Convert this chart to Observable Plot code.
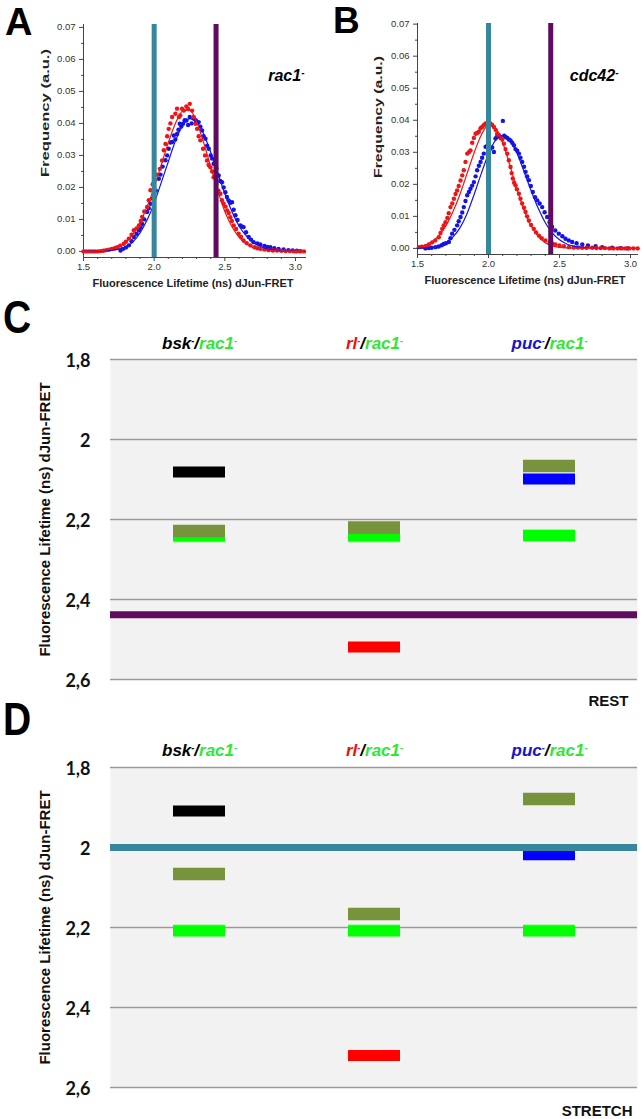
<!DOCTYPE html>
<html><head><meta charset="utf-8">
<script src="https://cdn.jsdelivr.net/npm/d3@7"></script>
<script src="https://cdn.jsdelivr.net/npm/@observablehq/plot@0.6"></script>
<style>
body{margin:0;background:#fff}
#root{position:relative;width:642px;height:1119px;overflow:hidden;background:#fff}
.panel{position:absolute}
.panel svg{display:block}
.letter{position:absolute;font-family:"Liberation Sans",Arial,sans-serif;font-weight:bold;line-height:0.8;color:#000;transform-origin:left top}
</style></head><body><div id="root">
<div class="letter" style="left:5px;top:7px;font-size:38px">A</div>
<div class="letter" style="left:333px;top:6px;font-size:37px">B</div>
<div class="letter" style="left:3px;top:299px;font-size:46px;transform:scaleX(0.85)">C</div>
<div class="letter" style="left:3px;top:701px;font-size:46px;transform:scaleX(0.85)">D</div>
</div>
<script>
// ---------- data ----------
const lifetimeTicks = [1.5, 2.0, 2.5, 3.0];
const lifetimeMinorTicks = [1.6, 1.7, 1.8, 1.9, 2.1, 2.2, 2.3, 2.4, 2.6, 2.7, 2.8, 2.9];
const freqTicks = [0, 0.01, 0.02, 0.03, 0.04, 0.05, 0.06, 0.07];
const freqMinorTicks = [0.005, 0.015, 0.025, 0.035, 0.045, 0.055, 0.065];
const xTitle = "Fluorescence Lifetime (ns) dJun-FRET";
const freqTitle = "Frequency (a.u.)";

const stretchReference = 2.0;   // teal
const restReference = 2.438;    // purple

// Panel A (rac1-): [lifetime, frequency]
const aRed = [[1.50,0],[1.52,0],[1.54,0],[1.56,0],[1.58,0],[1.60,0],[1.62,0.0001],[1.64,0.0002],[1.66,0.0004],[1.68,0.0005],[1.70,0.0008],
[1.72,0.0010],[1.738,0.0013],[1.76,0.0018],[1.785,0.0024],[1.80,0.0030],[1.821,0.0040],[1.84,0.0052],[1.856,0.0066],[1.875,0.0072],[1.892,0.0081],[1.905,0.0095],[1.915,0.0108],[1.93,0.0125],[1.95,0.0139],[1.962,0.0160],[1.974,0.0191],[1.99,0.021],[2.02,0.024],[2.04,0.0258],[2.056,0.0284],[2.068,0.0316],[2.08,0.0336],[2.092,0.036],[2.103,0.0383],[2.115,0.040],[2.127,0.0420],[2.15,0.0430],[2.162,0.0446],[2.175,0.042],[2.185,0.0425],[2.197,0.0446],[2.21,0.0440],[2.228,0.0453],[2.24,0.0445],[2.252,0.0461],[2.268,0.0440],[2.28,0.042],[2.292,0.0399],[2.304,0.0383],[2.315,0.036],[2.327,0.0347],[2.346,0.0321],[2.36,0.030],[2.374,0.0284],[2.385,0.027],[2.398,0.0263],[2.41,0.025],[2.421,0.0232],[2.44,0.0211],[2.455,0.019],[2.469,0.0180],[2.48,0.016],[2.492,0.0149],[2.505,0.014],[2.516,0.0128],[2.528,0.012],[2.539,0.0107],[2.55,0.0095],[2.563,0.0081],[2.58,0.007],[2.598,0.0055],[2.615,0.0045],[2.633,0.0034],[2.655,0.0026],[2.681,0.0019],[2.71,0.0013],[2.73,0.001],[2.751,0.0008],[2.78,0.0006],[2.81,0.0004],[2.84,0.0003],[2.869,0.0003],[2.9,0.0002],[2.93,0.0001],[2.96,0.0001],[2.99,0],[3.01,0],[3.034,0],[3.06,0]];
const aBlue = [[1.762,0.0003],[1.78,0.0008],[1.80,0.0012],[1.821,0.0019],[1.84,0.0032],[1.856,0.0045],[1.875,0.0055],[1.892,0.0066],[1.905,0.0075],[1.915,0.0086],[1.93,0.010],[1.95,0.0123],[1.962,0.0135],[1.974,0.0149],[1.99,0.0165],[2.012,0.019],[2.033,0.0227],[2.045,0.024],[2.06,0.0265],[2.08,0.0285],[2.092,0.030],[2.103,0.0321],[2.115,0.034],[2.127,0.0342],[2.139,0.0362],[2.15,0.035],[2.162,0.0367],[2.172,0.038],[2.181,0.0399],[2.192,0.039],[2.204,0.0399],[2.216,0.041],[2.228,0.0409],[2.24,0.0395],[2.252,0.0420],[2.265,0.040],[2.28,0.0415],[2.295,0.041],[2.315,0.0404],[2.327,0.039],[2.339,0.0378],[2.35,0.036],[2.363,0.0352],[2.375,0.033],[2.386,0.0321],[2.40,0.030],[2.41,0.029],[2.421,0.0274],[2.44,0.026],[2.457,0.0237],[2.468,0.022],[2.48,0.0216],[2.492,0.020],[2.504,0.0185],[2.515,0.017],[2.527,0.0159],[2.54,0.0152],[2.551,0.0154],[2.563,0.013],[2.575,0.0113],[2.59,0.0098],[2.61,0.0081],[2.62,0.0078],[2.633,0.0076],[2.65,0.006],[2.669,0.0045],[2.685,0.0037],[2.704,0.0029],[2.73,0.0025],[2.751,0.0022],[2.78,0.0017],[2.80,0.0014],[2.822,0.0013],[2.85,0.001],[2.88,0.0008],[2.916,0.0006],[2.95,0.0004],[2.98,0.0003],[3.01,0.0002],[3.034,0.0001]];
const aRedFit = [[1.5,0],[1.6,0.0002],[1.7,0.0008],[1.75,0.0015],[1.8,0.003],[1.85,0.0055],[1.9,0.009],[1.95,0.014],[2.0,0.020],[2.05,0.027],[2.1,0.034],[2.15,0.040],[2.2,0.0438],[2.25,0.0442],[2.3,0.0405],[2.35,0.034],[2.4,0.0265],[2.45,0.019],[2.5,0.0125],[2.55,0.0078],[2.6,0.0045],[2.65,0.0024],[2.7,0.0012],[2.8,0.0003],[2.9,0.0001],[3.06,0]];
const aBlueFit = [[1.5,0],[1.7,0.0003],[1.75,0.0007],[1.8,0.0015],[1.85,0.003],[1.9,0.0058],[1.95,0.0098],[2.0,0.015],[2.05,0.0215],[2.1,0.028],[2.15,0.0345],[2.2,0.0392],[2.25,0.0415],[2.3,0.0405],[2.35,0.0368],[2.4,0.031],[2.45,0.0245],[2.5,0.018],[2.55,0.0125],[2.6,0.008],[2.65,0.0049],[2.7,0.0028],[2.75,0.0016],[2.8,0.0008],[2.9,0.0002],[3.06,0]];

// Panel B (cdc42-)
const bRed = [[1.51,0.0004],[1.53,0.0005],[1.556,0.0007],[1.58,0.0012],[1.603,0.0019],[1.625,0.0025],[1.65,0.0035],[1.662,0.0048],[1.674,0.0061],[1.685,0.0072],[1.697,0.0082],[1.71,0.0095],[1.72,0.011],[1.732,0.0129],[1.745,0.014],[1.756,0.0155],[1.768,0.017],[1.779,0.0181],[1.79,0.0195],[1.803,0.0212],[1.815,0.0228],[1.826,0.0244],[1.838,0.027],[1.85,0.0296],[1.862,0.030],[1.873,0.0306],[1.885,0.033],[1.897,0.0345],[1.909,0.0358],[1.92,0.036],[1.932,0.0364],[1.944,0.0375],[1.955,0.0379],[1.967,0.0385],[1.979,0.0390],[1.99,0.0385],[2.0,0.0395],[2.014,0.0390],[2.026,0.0385],[2.038,0.0379],[2.05,0.037],[2.061,0.0358],[2.073,0.035],[2.085,0.0348],[2.097,0.034],[2.108,0.0327],[2.12,0.031],[2.132,0.0296],[2.143,0.0275],[2.155,0.0254],[2.163,0.0235],[2.171,0.0218],[2.18,0.0205],[2.19,0.0197],[2.2,0.0185],[2.214,0.0171],[2.225,0.0155],[2.237,0.0140],[2.25,0.0127],[2.261,0.0114],[2.272,0.010],[2.284,0.0087],[2.30,0.0073],[2.319,0.0061],[2.335,0.005],[2.355,0.0040],[2.375,0.0032],[2.401,0.0025],[2.43,0.0018],[2.45,0.0015],[2.472,0.0012],[2.5,0.0009],[2.53,0.0007],[2.566,0.0004],[2.6,0.0003],[2.63,0.0003],[2.66,0.0002],[2.69,0.0002],[2.73,0.0002],[2.76,0.0001],[2.79,0.0001],[2.82,0.0001],[2.85,0],[2.88,0],[2.91,0],[2.94,0],[2.965,0],[2.99,0],[3.02,0],[3.05,0]];
const bBlue = [[1.556,0],[1.58,0.0001],[1.60,0.0002],[1.627,0.0004],[1.65,0.0006],[1.67,0.0010],[1.685,0.0014],[1.70,0.0016],[1.721,0.0020],[1.732,0.0032],[1.744,0.0046],[1.76,0.0058],[1.779,0.0072],[1.79,0.0085],[1.803,0.0098],[1.815,0.0112],[1.826,0.0129],[1.838,0.0148],[1.85,0.0166],[1.862,0.0176],[1.873,0.0186],[1.885,0.0196],[1.897,0.0207],[1.909,0.0225],[1.92,0.0244],[1.932,0.0258],[1.944,0.0270],[1.955,0.0283],[1.967,0.0296],[1.979,0.0317],[1.99,0.032],[2.01,0.031],[2.026,0.0315],[2.038,0.0301],[2.049,0.0343],[2.061,0.0350],[2.073,0.0353],[2.085,0.0345],[2.101,0.0398],[2.11,0.0352],[2.12,0.0348],[2.132,0.0345],[2.143,0.034],[2.155,0.0337],[2.167,0.033],[2.179,0.0322],[2.19,0.031],[2.202,0.0305],[2.214,0.0296],[2.225,0.0283],[2.237,0.0270],[2.25,0.0255],[2.261,0.0239],[2.272,0.0225],[2.284,0.0213],[2.298,0.0195],[2.312,0.0176],[2.328,0.016],[2.343,0.0150],[2.36,0.014],[2.378,0.0129],[2.395,0.0113],[2.413,0.0098],[2.43,0.0082],[2.448,0.0067],[2.47,0.0056],[2.495,0.0046],[2.52,0.0038],[2.542,0.0030],[2.565,0.0025],[2.589,0.0020],[2.62,0.0016],[2.66,0.0012],[2.70,0.0009],[2.754,0.0007],[2.80,0.0004],[2.871,0.0002],[2.93,0.0001],[2.98,0]];
const bRedFit = [[1.5,0.0005],[1.55,0.001],[1.6,0.002],[1.65,0.004],[1.7,0.007],[1.75,0.0115],[1.8,0.017],[1.85,0.0235],[1.9,0.030],[1.95,0.0355],[2.0,0.0385],[2.05,0.0375],[2.1,0.033],[2.15,0.026],[2.2,0.0185],[2.25,0.012],[2.3,0.007],[2.35,0.0038],[2.4,0.0018],[2.45,0.0008],[2.5,0.0003],[2.6,0.0001],[3.05,0]];
const bBlueFit = [[1.5,0],[1.6,0.0003],[1.65,0.0008],[1.7,0.0018],[1.75,0.0036],[1.8,0.0065],[1.85,0.011],[1.9,0.017],[1.95,0.0235],[2.0,0.0295],[2.05,0.0338],[2.1,0.0352],[2.15,0.0338],[2.2,0.0298],[2.25,0.024],[2.3,0.018],[2.35,0.0125],[2.4,0.008],[2.45,0.0048],[2.5,0.0027],[2.55,0.0014],[2.6,0.0007],[2.7,0.0002],[2.8,0],[3.05,0]];

// Panels C / D
const genotypes = ["bsk", "rl", "puc"];
const partner = "rac1";
const lifetimeAxisTicks = [1.8, 2, 2.2, 2.4, 2.6];
const lifetimeTitle = "Fluorescence Lifetime (ns) dJun-FRET";
const restSingle = [2.081, 2.519, 2.099];
const restDouble = [2.229, 2.220, 2.066];
const restRac1 = [2.241, 2.241, 2.240];
const stretchSingle = [1.909, 2.520, 2.018];
const stretchDouble = [2.066, 2.166, 1.879];
const stretchRac1 = [2.208, 2.208, 2.208];

// ---------- styles ----------
const TEAL = "#34879c", PURPLE = "#5f0b60";
const DOT_RED = "#f01414", DOT_BLUE = "#1414e6";
const SINGLE = ["#000000", "#ff0000", "#0000ff"];
const HEAD = ["#000000", "#ee1111", "#1515cc"];
const OLIVE = "#77933c", GREEN = "#00ff00", HEAD_GREEN = "#33e633";
const SANS = "'Liberation Sans', Arial, sans-serif";
const SVGNS = "http://www.w3.org/2000/svg";

const root = document.getElementById("root");
function place(el, left, top) {
  const d = document.createElement("div");
  d.className = "panel"; d.style.left = left + "px"; d.style.top = top + "px";
  d.appendChild(el); root.appendChild(d);
}
function findText(svg, str) { return [...svg.querySelectorAll("text")].filter(t => t.textContent === str); }
function rich(t, parts) {
  t.textContent = "";
  for (const p of parts) {
    const ts = document.createElementNS(SVGNS, "tspan");
    ts.textContent = p.t;
    if (p.fill) ts.setAttribute("fill", p.fill);
    if (p.sup) { ts.setAttribute("font-size", p.size || "9"); ts.setAttribute("baseline-shift", "super"); }
    t.appendChild(ts);
  }
}

function hist(cfg) {
  const pt = {x: d => d[0], y: d => d[1]};
  const svg = Plot.plot({
    width: cfg.width, height: 300,
    marginLeft: cfg.ml, marginRight: cfg.mr, marginTop: cfg.mt, marginBottom: cfg.mb,
    x: {domain: cfg.xDomain},
    y: {domain: cfg.yDomain},
    style: {fontFamily: SANS, fontSize: "9.5px", color: "#333", background: "transparent", overflow: "visible"},
    marks: [
      Plot.axisY({ticks: freqTicks, tickSize: 4, tickPadding: 4, tickFormat: d3.format(".2f"), label: null, stroke: "#444", fill: "#333"}),
      Plot.axisY({ticks: freqMinorTicks, tickSize: 2, tickFormat: () => "", label: null, stroke: "#444"}),
      Plot.axisX({ticks: lifetimeTicks, tickSize: 4, tickPadding: 2, tickFormat: d3.format(".1f"), label: null, stroke: "#444", fill: "#333"}),
      Plot.axisX({ticks: lifetimeMinorTicks, tickSize: 2, tickFormat: () => "", label: null, stroke: "#444"}),
      Plot.ruleX([cfg.xDomain[0]], {stroke: "#444"}),
      Plot.ruleY([cfg.yDomain[0]], {stroke: "#444"}),
      Plot.dot(cfg.blue, {...pt, r: 2.2, fill: DOT_BLUE}),
      Plot.dot(cfg.red, {...pt, r: 2.2, fill: DOT_RED}),
      Plot.line(cfg.blueFit, {...pt, stroke: DOT_BLUE, strokeWidth: 1.2, curve: "monotone-x"}),
      Plot.line(cfg.redFit, {...pt, stroke: DOT_RED, strokeWidth: 1.2, curve: "monotone-x"}),
      Plot.ruleX([stretchReference], {stroke: TEAL, strokeWidth: 5}),
      Plot.ruleX([restReference], {stroke: PURPLE, strokeWidth: 5}),
      Plot.text([cfg.tag], {frameAnchor: "top-right", dx: cfg.tagDx, dy: cfg.tagDy, textAnchor: "end", lineAnchor: "bottom",
        fontSize: 16, fontWeight: "bold", fontStyle: "italic", fill: "#000"}),
      Plot.text([xTitle], {frameAnchor: "bottom", dx: cfg.xlDx, dy: 29, textAnchor: "middle", lineAnchor: "bottom", fontSize: 11, fontWeight: "bold", fill: "#222"}),
      Plot.text([freqTitle], {frameAnchor: "left", rotate: -90, dx: cfg.ylDx, dy: cfg.ylDy, textAnchor: "middle", lineAnchor: "middle", fontSize: 11, fontWeight: "bold", fill: "#222"})
    ]
  });
  for (const t of findText(svg, cfg.tag)) rich(t, [{t: cfg.tag}, {t: "-", sup: true, size: "10"}]);
  for (const t of findText(svg, freqTitle)) { t.setAttribute("textLength", cfg.ylLen); t.setAttribute("lengthAdjust", "spacingAndGlyphs"); }
  return svg;
}

place(hist({width: 320, ml: 83, mr: 14, mt: 24, mb: 43, xDomain: [1.5, 3.078], yDomain: [-0.0019, 0.0709],
  red: aRed, blue: aBlue, redFit: aRedFit, blueFit: aBlueFit, tag: "rac1", tagDx: -2, tagDy: 56,
  xlDx: -2, ylDx: -38, ylDy: -28, ylLen: 128}), 0, 0);
place(hist({width: 322, ml: 97, mr: 4, mt: 23, mb: 46, xDomain: [1.5, 3.056], yDomain: [-0.0019, 0.0702],
  red: bRed, blue: bBlue, redFit: bRedFit, blueFit: bBlueFit, tag: "cdc42", tagDx: -20, tagDy: 57,
  xlDx: -3, ylDx: -39, ylDy: -22, ylLen: 122}), 320, 0);

function lifetimePanel(cfg) {
  const svg = Plot.plot({
    width: 642, height: cfg.height,
    marginLeft: 110, marginRight: 5, marginTop: 29, marginBottom: cfg.mb,
    x: {type: "band", domain: genotypes, paddingInner: 0.704, paddingOuter: 0.352, axis: null},
    y: {domain: [1.8, 2.6], reverse: true},
    style: {fontFamily: SANS, background: "transparent", overflow: "visible", color: "#000"},
    marks: [
      Plot.frame({fill: "#f2f2f2", stroke: "none"}),
      Plot.gridY(lifetimeAxisTicks, {stroke: "#9a9a9a", strokeOpacity: 1, strokeWidth: 1.5}),
      Plot.axisY(lifetimeAxisTicks, {tickSize: 0, tickPadding: 20, dy: 2, label: null,
        tickFormat: d => String(d).replace(".", ","), fontSize: 18, fontWeight: "bold", fontFamily: "Lato", fill: "#111"}),
      Plot.tickY(genotypes, {x: d => d, y: (d, i) => cfg.rac1[i], stroke: GREEN, strokeWidth: 13, strokeOpacity: 0.35}),
      Plot.tickY(genotypes, {x: d => d, y: (d, i) => cfg.rac1[i], stroke: GREEN, strokeWidth: 11}),
      Plot.tickY(genotypes, {x: d => d, y: (d, i) => cfg.single[i], stroke: (d, i) => SINGLE[i], strokeWidth: 11}),
      Plot.tickY(genotypes, {x: d => d, y: (d, i) => cfg.double[i], stroke: OLIVE, strokeWidth: 12.5}),
      Plot.ruleY([cfg.reference], {stroke: cfg.refColor, strokeWidth: 7}),
      Plot.text(genotypes, {x: d => d, frameAnchor: "top", dy: cfg.hdy, textAnchor: "middle", lineAnchor: "bottom", text: d => d,
        fontSize: 17, fontWeight: "bold", fontStyle: "italic"}),
      Plot.text([lifetimeTitle], {frameAnchor: "left", rotate: -90, dx: -65, textAnchor: "middle", lineAnchor: "middle",
        fontSize: 15, fontWeight: "bold", fill: "#111"}),
      Plot.text([cfg.condition], {frameAnchor: "bottom-right", dx: cfg.cdx, dy: cfg.cdy, textAnchor: "end", lineAnchor: "bottom",
        fontSize: 15, fontWeight: "bold", fill: "#111"})
    ]
  });
  const g = svg.querySelector('g[aria-label="y-axis tick label"]');
  if (g) { g.setAttribute("font-family", "Lato, 'Open Sans', sans-serif"); g.setAttribute("font-size", "18"); g.setAttribute("font-weight", "bold"); }
  genotypes.forEach((k, i) => {
    for (const t of findText(svg, k)) rich(t, [
      {t: k, fill: HEAD[i]}, {t: "-", sup: true, fill: HEAD[i]}, {t: "/", fill: "#000"},
      {t: partner, fill: HEAD_GREEN}, {t: "-", sup: true, fill: HEAD_GREEN}
    ]);
  });
  return svg;
}

place(lifetimePanel({height: 390, mb: 41, single: restSingle, double: restDouble, rac1: restRac1,
  reference: restReference, refColor: PURPLE, condition: "REST", hdy: -11, cdx: -9, cdy: 26}), 0, 330);
place(lifetimePanel({height: 381, mb: 32, single: stretchSingle, double: stretchDouble, rac1: stretchRac1,
  reference: stretchReference, refColor: TEAL, condition: "STRETCH", hdy: -12, cdx: -5, cdy: 28}), 0, 738);
</script>
</body></html>
